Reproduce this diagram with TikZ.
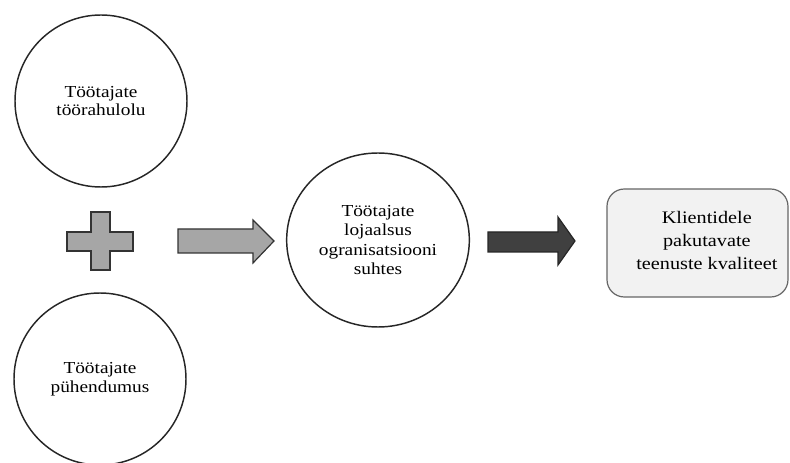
\documentclass[tikz,border=0pt]{standalone}
\usepackage{fontspec}
\setmainfont[FakeStretch=1.15]{Liberation Serif}
\usetikzlibrary{shapes.geometric}
\begin{document}
\begin{tikzpicture}[x=0.75pt,y=-0.75pt,
  circ/.style={draw=black!85, line width=1.1pt, circle, minimum size=129pt, inner sep=0pt, align=center, font=\fontsize{12.6}{14.2}\selectfont},
  blockgray/.style={draw=black!80, line width=0.9pt, fill=black!35, line join=miter},
  blockdark/.style={draw=black!85, line width=0.9pt, fill=black!75, line join=miter},
  result/.style={draw=black!60, line width=0.9pt, fill=black!5, rounded corners=13pt, minimum width=135.75pt, minimum height=81pt},
  resulttext/.style={align=center, font=\fontsize{13.2}{17.5}\selectfont, xshift=7pt, yshift=2pt}]
\useasboundingbox (0,0) rectangle (790,463);
\node[circ] (sat) at (101,101) {Töötajate\\töörahulolu};
\node[circ] (ded) at (100,379) {Töötajate\\pühendumus};
\node[circ, ellipse, minimum width=137pt, minimum height=130.5pt, font=\fontsize{12.6}{14.6}\selectfont] (loy) at (378,240) {Töötajate\\lojaalsus\\ogranisatsiooni\\suhtes};
\node[result, label={[resulttext]center:Klientidele\\pakutavate\\teenuste kvaliteet}] (qual) at (697.5,243) {};
% plus sign
\draw[blockgray] (91,212) -- (110,212) -- (110,232) -- (133,232) -- (133,251) -- (110,251) -- (110,270) -- (91,270) -- (91,251) -- (67,251) -- (67,232) -- (91,232) -- cycle;
% gray block arrow
\draw[blockgray] (178,229) -- (253,229) -- (253,220) -- (274,241) -- (253,263) -- (253,253) -- (178,253) -- cycle;
% dark block arrow
\draw[blockdark] (488,232) -- (558,232) -- (558,217) -- (575,241) -- (558,265) -- (558,252) -- (488,252) -- cycle;
\end{tikzpicture}
\end{document}
